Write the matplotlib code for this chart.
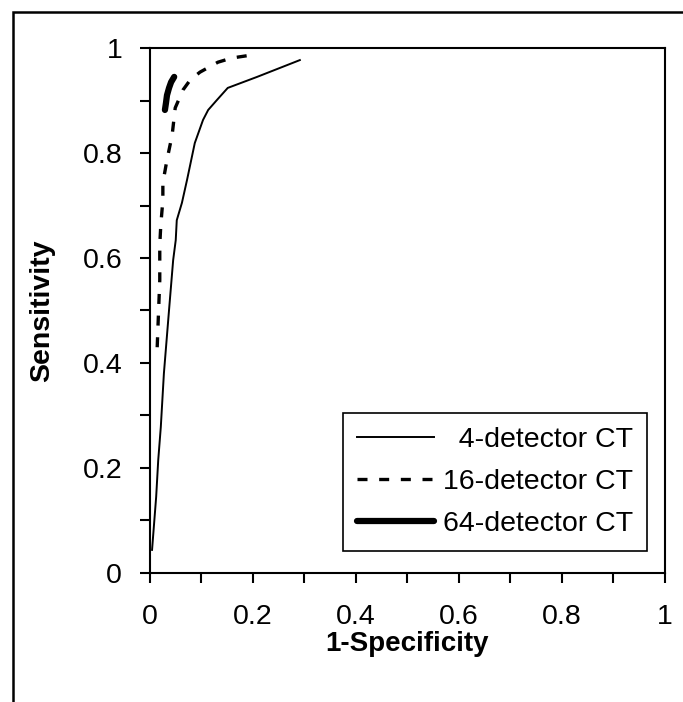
import matplotlib
matplotlib.use('Agg')
import matplotlib.pyplot as plt
from matplotlib.patches import Rectangle
from matplotlib.ticker import MultipleLocator, FuncFormatter

plt.rcParams['font.family'] = ['Liberation Sans', 'DejaVu Sans']

# 4-detector CT
fpr_4 = [0.004, 0.012, 0.016, 0.021, 0.027, 0.037, 0.045, 0.050, 0.052, 0.062,
         0.072, 0.087, 0.103, 0.113, 0.130, 0.151, 0.208, 0.291]
tpr_4 = [0.044, 0.145, 0.215, 0.278, 0.380, 0.501, 0.596, 0.634, 0.672, 0.705,
         0.749, 0.819, 0.863, 0.882, 0.901, 0.924, 0.945, 0.977]

# 16-detector CT
fpr_16 = [0.014, 0.016, 0.019, 0.019, 0.021, 0.025, 0.025, 0.033, 0.043, 0.049,
          0.064, 0.078, 0.097, 0.132, 0.159, 0.200, 0.208]
tpr_16 = [0.430, 0.482, 0.558, 0.625, 0.663, 0.710, 0.743, 0.787, 0.834, 0.886,
          0.920, 0.939, 0.954, 0.973, 0.981, 0.987, 0.989]

# 64-detector CT
fpr_64 = [0.029, 0.031, 0.033, 0.037, 0.041, 0.047]
tpr_64 = [0.882, 0.895, 0.910, 0.924, 0.935, 0.945]

fig = plt.figure(figsize=(6.83, 7.02), dpi=100)
ax = fig.add_axes([0.2196, 0.1838, 0.754, 0.7478])

ax.plot(fpr_4, tpr_4, color='black', lw=1.4, label='  4-detector CT')
ax.plot(fpr_16, tpr_16, color='black', lw=2.4, dashes=(3, 3.5),
        label='16-detector CT')
ax.plot(fpr_64, tpr_64, color='black', lw=4.5, solid_capstyle='round',
        label='64-detector CT')

ax.set_xlim(0, 1)
ax.set_ylim(0, 1)
for a in (ax.xaxis, ax.yaxis):
    a.set_major_locator(MultipleLocator(0.2))
    a.set_minor_locator(MultipleLocator(0.1))
    a.set_major_formatter(FuncFormatter(lambda v, p: '%g' % round(v, 1)))
ax.tick_params(which='both', direction='out', length=7, width=1.5,
               top=False, right=False)
ax.tick_params(axis='x', labelsize=20.5, pad=15)
ax.tick_params(axis='y', labelsize=20.5, pad=13)
for s in ax.spines.values():
    s.set_linewidth(1.5)

ax.set_xlabel('1-Specificity', fontsize=20, fontweight='bold', labelpad=1)
ax.set_ylabel('Sensitivity', fontsize=20.5, fontweight='bold', labelpad=20)

leg = ax.legend(loc='lower right', bbox_to_anchor=(0.965, 0.042),
                borderaxespad=0, fontsize=20.5, handlelength=2.7,
                handletextpad=0.3, labelspacing=0.55, fancybox=False,
                edgecolor='black', framealpha=1, borderpad=0.5)
leg.get_frame().set_linewidth(1.2)

# outer frame around the figure
fig.patches.append(Rectangle((0.019, -0.1), 1.2, 1.083, transform=fig.transFigure,
                             fill=False, edgecolor='black', lw=1.8, clip_on=False))

fig.savefig('out.png', dpi=100)
